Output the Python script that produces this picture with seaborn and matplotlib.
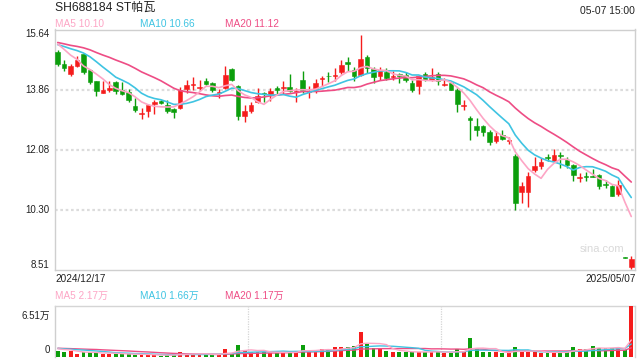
import numpy as np
import pandas as pd
import matplotlib
matplotlib.use("Agg")
import matplotlib.pyplot as plt
import seaborn as sns

# ---------------- data ----------------
title = "SH688184 ST帕瓦"
stamp = "05-07 15:00"
date_first = "2024/12/17"
date_last = "2025/05/07"

opens = [14.97, 14.61, 14.33, 14.55, 14.91, 14.43, 14.10, 13.75, 13.86, 14.08,
         13.86, 13.80, 13.38, 13.13, 13.21, 13.42, 13.51, 13.40, 13.27, 13.32,
         13.89, 13.98, 13.90, 14.10, 14.06, 13.75, 13.90, 14.47, 13.96, 13.07,
         13.21, 13.48, 13.74, 13.72, 13.92, 13.90, 13.94, 13.80, 14.15, 13.79,
         13.88, 14.17, 14.27, 14.25, 14.39, 14.69, 14.43, 14.29, 14.83, 14.47,
         14.25, 14.37, 14.23, 14.33, 14.29, 14.04, 13.96, 14.33, 14.15, 14.33,
         13.99, 14.04, 13.86, 13.36, 13.01, 12.79, 12.79, 12.61, 12.33, 12.51,
         12.33, 11.88, 10.81, 10.83, 11.48, 11.60, 11.84, 11.74, 11.90, 11.76,
         11.62, 11.23, 11.28, 11.28, 11.32, 11.05, 11.01, 10.75, 8.88, 8.61]
highs = [15.03, 14.73, 14.63, 14.85, 14.95, 14.47, 14.12, 14.10, 14.11, 14.10,
         14.08, 13.88, 13.62, 13.32, 13.42, 13.54, 13.56, 13.56, 13.30, 13.94,
         14.14, 14.23, 14.14, 14.20, 14.08, 13.88, 14.57, 14.51, 14.00, 13.40,
         13.48, 13.90, 13.78, 13.92, 13.96, 14.12, 14.33, 13.90, 14.41, 13.96,
         14.16, 14.25, 14.37, 14.51, 14.73, 14.81, 14.53, 15.49, 14.87, 14.53,
         14.53, 14.49, 14.41, 14.35, 14.37, 14.15, 14.27, 14.37, 14.51, 14.37,
         14.19, 14.08, 13.92, 13.54, 13.09, 13.01, 12.81, 12.65, 12.63, 12.65,
         12.45, 11.96, 11.11, 11.42, 11.86, 11.82, 11.96, 12.10, 12.02, 11.86,
         11.66, 11.38, 11.42, 11.50, 11.36, 11.18, 11.03, 11.18, 8.90, 8.93]
lows = [14.55, 14.41, 14.27, 14.53, 14.31, 14.02, 13.66, 13.75, 13.79, 13.74,
        13.70, 13.48, 13.18, 12.99, 13.05, 13.13, 13.42, 13.16, 13.03, 13.28,
        13.76, 13.86, 13.84, 13.98, 13.78, 13.60, 13.88, 14.10, 12.97, 12.91,
        13.16, 13.46, 13.48, 13.52, 13.74, 13.74, 13.80, 13.50, 13.76, 13.60,
        13.76, 13.96, 14.08, 14.10, 14.33, 14.41, 14.10, 14.25, 14.35, 14.04,
        14.15, 14.15, 14.15, 14.06, 14.08, 13.78, 13.72, 14.10, 14.12, 13.99,
        13.96, 13.84, 13.20, 13.26, 12.37, 12.47, 12.49, 12.21, 12.27, 12.35,
        12.25, 10.29, 10.51, 10.37, 11.42, 11.50, 11.74, 11.72, 11.52, 11.52,
        11.16, 11.13, 11.16, 11.26, 10.91, 10.95, 10.69, 10.71, 8.87, 8.55]
closes = [14.61, 14.49, 14.57, 14.75, 14.37, 14.08, 13.82, 13.86, 13.91, 13.81,
          13.72, 13.54, 13.24, 13.16, 13.40, 13.48, 13.46, 13.21, 13.18, 13.84,
          13.98, 14.02, 13.92, 14.02, 13.84, 13.78, 14.30, 14.13, 13.07, 13.23,
          13.40, 13.68, 13.72, 13.81, 13.86, 13.92, 13.82, 13.82, 13.86, 13.82,
          14.04, 14.19, 14.25, 14.30, 14.60, 14.61, 14.25, 14.77, 14.49, 14.23,
          14.43, 14.21, 14.27, 14.27, 14.13, 13.86, 14.25, 14.15, 14.23, 14.10,
          14.02, 13.86, 13.42, 13.39, 12.97, 12.67, 12.59, 12.31, 12.49, 12.39,
          12.36, 10.51, 11.01, 11.30, 11.60, 11.72, 11.83, 11.92, 11.89, 11.62,
          11.32, 11.28, 11.26, 11.26, 10.99, 11.02, 10.71, 11.04, 8.87, 8.84]
# closes of the 19 sessions before the window (only used for the MA lines)
pre_closes = [15.30, 15.45, 15.38, 15.20, 15.28, 15.42, 15.35, 15.25, 15.40, 15.15,
              15.05, 15.22, 15.30, 15.10, 15.18, 15.30, 15.42, 15.38, 15.35]

# volume in 万
volumes = [0.77, 0.64, 0.77, 0.39, 0.60, 0.60, 0.56, 0.39, 0.39, 0.43,
           0.39, 0.34, 0.30, 0.26, 0.30, 0.22, 0.17, 0.26, 0.26, 0.64,
           0.39, 0.34, 0.34, 0.30, 0.30, 0.30, 1.03, 0.51, 1.54, 0.77,
           0.69, 0.64, 0.60, 0.56, 0.56, 0.60, 0.60, 0.64, 1.54, 0.64,
           0.73, 0.98, 0.86, 1.24, 1.28, 1.24, 1.41, 3.21, 1.67, 1.16,
           1.11, 0.77, 0.64, 0.64, 0.64, 0.64, 0.64, 0.64, 0.64, 0.73,
           0.51, 0.51, 0.98, 0.64, 2.44, 1.03, 0.60, 0.64, 0.64, 0.51,
           0.45, 1.30, 0.72, 0.70, 0.68, 0.45, 0.45, 0.70, 0.65, 0.70,
           1.24, 1.00, 0.98, 1.38, 1.15, 1.10, 1.15, 1.24, 0.85, 6.51]
pre_volumes = [1.10, 1.25, 1.05, 1.20, 1.15, 1.00, 1.30, 1.10, 1.20, 1.05,
               1.15, 1.25, 1.10, 1.00, 1.20, 1.15, 1.05, 1.10, 1.20]

price_ticks = [15.64, 13.86, 12.08, 10.30, 8.51]
vol_max = 6.51

# ---------------- styling ----------------
sns.set_theme(style="white")
plt.rcParams['font.family'] = ['Liberation Sans', 'Noto Sans CJK SC', 'DejaVu Sans']

RED = "#f51c1c"
GREEN = "#0c9e0c"
C_MA5 = "#fda5c5"
C_MA10 = "#3fc4e2"
C_MA20 = "#ee4d85"
GRID = "#dcdcdc"
TXT = "#222222"

n = len(closes)
idx = np.arange(n)
df = pd.DataFrame({"i": idx, "open": opens, "high": highs, "low": lows,
                   "close": closes, "vol": volumes})
allc = pd.Series(pre_closes + closes)
allv = pd.Series(pre_volumes + volumes)
npre = len(pre_closes)
for w in (5, 10, 20):
    df[f"ma{w}"] = allc.rolling(w).mean().iloc[npre:].to_numpy()
    df[f"vma{w}"] = allv.rolling(w).mean().iloc[npre:].to_numpy()
up = df["close"] >= df["open"]
colors = np.where(up, RED, GREEN)

W, H = 640, 360
fig = plt.figure(figsize=(6.4, 3.6), dpi=100)
fig.patch.set_facecolor("white")

def fx(px):
    return px / W

def fy(py):
    return 1 - py / H

# main price panel
ax = fig.add_axes([fx(54.5), fy(270), fx(580), (270 - 29.5) / H])
ax.set_xlim(-0.5, n - 0.5)
ax.set_ylim(price_ticks[-1], price_ticks[0])
for yv in price_ticks[1:-1]:
    ax.axhline(yv, color=GRID, lw=1.6, ls=(0, (1.2, 1.2)), zorder=0)

body_w = 0.72
ax.vlines(df["i"], df["low"], df["high"], colors=colors, lw=1.0, zorder=2)
bottoms = np.minimum(df["open"], df["close"])
heights = np.maximum(np.abs(df["close"] - df["open"]), 0.025)
ax.bar(df["i"], heights, bottom=bottoms, width=body_w, color=colors,
       edgecolor=colors, linewidth=0.4, zorder=3)

for col, c in (("ma20", C_MA20), ("ma10", C_MA10), ("ma5", C_MA5)):
    sns.lineplot(data=df, x="i", y=col, ax=ax, color=c, lw=1.2, zorder=4,
                 legend=False)
ax.set_xlabel("")
ax.set_ylabel("")
ax.set_xticks([])
ax.set_yticks([])
for s in ax.spines.values():
    s.set_color("#cfcfcf")
    s.set_linewidth(1.0)

# y labels
ytrans = ax.get_yaxis_transform()
for k, yv in enumerate(price_ticks):
    va = "center"
    if k == 0:
        va = "top"
    elif k == len(price_ticks) - 1:
        va = "bottom"
    ax.text(-0.008, yv, f"{yv:.2f}", transform=ytrans, ha="right", va=va,
            fontsize=7, color=TXT)

ax.text(0.944, 0.087, "sina.com", transform=ax.transAxes, ha="center",
        va="center", fontsize=8, color="#d9d9d9", zorder=1)

# header texts
fig.text(fx(55), fy(8), title, fontsize=8.7, color=TXT, ha="left", va="center")
fig.text(fx(635), fy(11.5), stamp, fontsize=7.4, color=TXT, ha="right", va="center")
last = df.iloc[-1]
fig.text(fx(55), fy(24), f"MA5 {last['ma5']:.2f}", fontsize=7.3, color=C_MA5, va="center")
fig.text(fx(140.5), fy(24), f"MA10 {last['ma10']:.2f}", fontsize=7.3, color=C_MA10, va="center")
fig.text(fx(225), fy(24), f"MA20 {last['ma20']:.2f}", fontsize=7.3, color=C_MA20, va="center")

fig.text(fx(55), fy(278.5), date_first, fontsize=7.2, color=TXT, ha="left", va="center")
fig.text(fx(636), fy(278.5), date_last, fontsize=7.2, color=TXT, ha="right", va="center")

fig.text(fx(55), fy(296), f"MA5 {last['vma5']:.2f}万", fontsize=7.2, color=C_MA5, va="center")
fig.text(fx(140.5), fy(296), f"MA10 {last['vma10']:.2f}万", fontsize=7.2, color=C_MA10, va="center")
fig.text(fx(225), fy(296), f"MA20 {last['vma20']:.2f}万", fontsize=7.2, color=C_MA20, va="center")

# volume panel
axv = fig.add_axes([fx(54.5), fy(357), fx(580), (357 - 306) / H])
axv.set_xlim(-0.5, n - 0.5)
axv.set_ylim(0, vol_max)
axv.bar(df["i"], df["vol"], width=0.62, color=colors, linewidth=0, zorder=3)
for col, c in (("vma20", C_MA20), ("vma10", C_MA10), ("vma5", C_MA5)):
    sns.lineplot(data=df, x="i", y=col, ax=axv, color=c, lw=1.0, zorder=4,
                 legend=False)
for xv in (n / 3 - 0.5, 2 * n / 3 - 0.5):
    axv.axvline(xv, color="#d5d5d5", lw=0.9, ls=(0, (1, 1)), zorder=0)
axv.set_xlabel("")
axv.set_ylabel("")
axv.set_xticks([])
axv.set_yticks([])
axv.spines["bottom"].set_visible(False)
axv.spines["left"].set_color("#cfcfcf")
axv.spines["left"].set_linewidth(1.0)
for k in ("top", "right"):
    axv.spines[k].set_color("#d5d5d5")
    axv.spines[k].set_linewidth(1.0)
    axv.spines[k].set_linestyle((0, (1, 1)))
axv.text(-0.008, 0.80, f"{vol_max:.2f}万", transform=axv.transAxes, ha="right",
         va="center", fontsize=7, color=TXT)
axv.text(-0.008, 0.13, "0", transform=axv.transAxes, ha="right",
         va="center", fontsize=7, color=TXT)

fig.savefig("out.png", dpi=100, facecolor="white")
